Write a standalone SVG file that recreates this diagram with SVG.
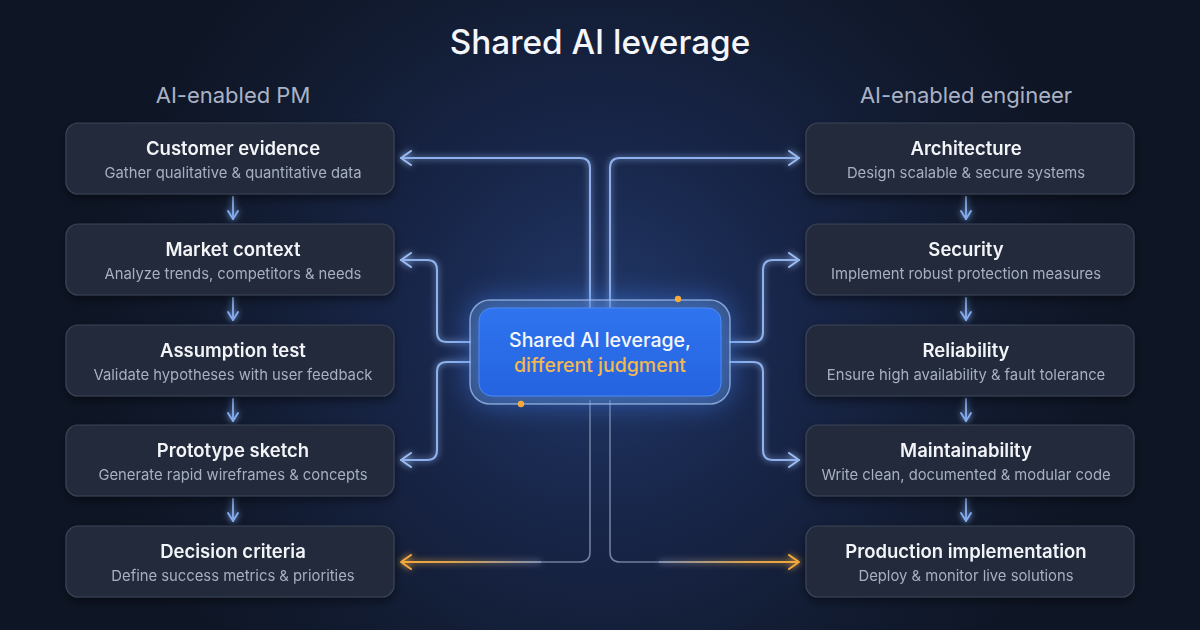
<svg xmlns="http://www.w3.org/2000/svg" width="1200" height="630" viewBox="0 0 1200 630">
<defs>
  <radialGradient id="bg" cx="600" cy="330" r="520" gradientUnits="userSpaceOnUse">
    <stop offset="0" stop-color="#22396a"/>
    <stop offset="0.35" stop-color="#18264a"/>
    <stop offset="0.75" stop-color="#111a2e"/>
    <stop offset="1" stop-color="#0e1524"/>
  </radialGradient>
  <linearGradient id="gl" x1="541" y1="0" x2="400" y2="0" gradientUnits="userSpaceOnUse">
    <stop offset="0" stop-color="#7f8fb0"/>
    <stop offset="0.6" stop-color="#d9a150"/>
    <stop offset="1" stop-color="#f5a93a"/>
  </linearGradient>
  <linearGradient id="gr" x1="659" y1="0" x2="800" y2="0" gradientUnits="userSpaceOnUse">
    <stop offset="0" stop-color="#7f8fb0"/>
    <stop offset="0.6" stop-color="#d9a150"/>
    <stop offset="1" stop-color="#f5a93a"/>
  </linearGradient>
  <linearGradient id="cfill" x1="0" y1="0" x2="0" y2="1">
    <stop offset="0" stop-color="#2f74ee"/>
    <stop offset="1" stop-color="#2563e0"/>
  </linearGradient>
  <filter id="glow" filterUnits="userSpaceOnUse" x="0" y="0" width="1200" height="630">
    <feGaussianBlur in="SourceGraphic" stdDeviation="3" result="b"/>
    <feMerge><feMergeNode in="b"/><feMergeNode in="SourceGraphic"/></feMerge>
  </filter>
  <filter id="shadow" x="-10%" y="-20%" width="120%" height="150%">
    <feDropShadow dx="0" dy="4" stdDeviation="5" flood-color="#000" flood-opacity="0.45"/>
  </filter>
  <filter id="cglow" x="-30%" y="-60%" width="160%" height="220%">
    <feGaussianBlur stdDeviation="14"/>
  </filter>
  <marker id="ah" viewBox="0 0 12 16" refX="11" refY="8" markerWidth="12" markerHeight="16" markerUnits="userSpaceOnUse" orient="auto">
    <path d="M1,1 L11,8 L1,15" fill="none" stroke="#9cbcf2" stroke-width="2" stroke-linecap="round" stroke-linejoin="round"/>
  </marker>
  <marker id="ao" viewBox="0 0 12 16" refX="11" refY="8" markerWidth="12" markerHeight="16" markerUnits="userSpaceOnUse" orient="auto">
    <path d="M1,1 L11,8 L1,15" fill="none" stroke="#f5ab3c" stroke-width="2" stroke-linecap="round" stroke-linejoin="round"/>
  </marker>
  <marker id="ad" viewBox="0 0 16 12" refX="15" refY="6" markerWidth="16" markerHeight="12" markerUnits="userSpaceOnUse" orient="auto">
    <path d="M7,1 L15,6 L7,11" fill="none" stroke="#86aef0" stroke-width="1.8" stroke-linecap="round" stroke-linejoin="round"/>
  </marker>
</defs>
<style>
  .box{fill:#222a3b;stroke:#3b4558;stroke-width:1.2}
  .t{font-family:Inter,"Liberation Sans",sans-serif;font-size:18.5px;font-weight:600;fill:#f2f4f8;text-anchor:middle}
  .s{font-family:Inter,"Liberation Sans",sans-serif;font-size:14.8px;font-weight:400;fill:#a7b0c2;text-anchor:middle}
  .h{font-family:Inter,"Liberation Sans",sans-serif;font-size:22px;font-weight:400;fill:#aab3c6;text-anchor:middle}
  .blue{fill:none;stroke:#8fb2ee;stroke-width:2;stroke-linecap:round}
  .down{fill:none;stroke:#86aef0;stroke-width:1.8;stroke-linecap:round}
</style>
<rect width="1200" height="630" fill="url(#bg)"/>

<text x="600" y="54" font-family="Inter,'Liberation Sans',sans-serif" font-size="33.3" font-weight="500" fill="#f4f6fa" text-anchor="middle">Shared AI leverage</text>
<text class="h" x="233" y="103">AI-enabled PM</text>
<text class="h" x="966" y="103">AI-enabled engineer</text>

<g id="connectors">
  <!-- left -->
  <path class="blue" filter="url(#glow)" d="M590,312 V168 Q590,158 580,158 H401" marker-end="url(#ah)"/>
  <path class="blue" filter="url(#glow)" d="M470,342 H447 Q437,342 437,332 V270 Q437,260 427,260 H401" marker-end="url(#ah)"/>
  <path class="blue" filter="url(#glow)" d="M470,362 H447 Q437,362 437,372 V450 Q437,460 427,460 H401" marker-end="url(#ah)"/>
  <path fill="none" stroke="#6f7f9f" stroke-width="1.6" d="M590,400 V552 Q590,562 580,562 H540"/>
  <path fill="none" stroke="url(#gl)" stroke-width="2" filter="url(#glow)" d="M541,562 H401" marker-end="url(#ao)"/>
  <!-- right -->
  <path class="blue" filter="url(#glow)" d="M610,312 V168 Q610,158 620,158 H799" marker-end="url(#ah)"/>
  <path class="blue" filter="url(#glow)" d="M730,342 H753 Q763,342 763,332 V270 Q763,260 773,260 H799" marker-end="url(#ah)"/>
  <path class="blue" filter="url(#glow)" d="M730,362 H753 Q763,362 763,372 V450 Q763,460 773,460 H799" marker-end="url(#ah)"/>
  <path fill="none" stroke="#6f7f9f" stroke-width="1.6" d="M610,400 V552 Q610,562 620,562 H660"/>
  <path fill="none" stroke="url(#gr)" stroke-width="2" filter="url(#glow)" d="M659,562 H799" marker-end="url(#ao)"/>
  <!-- down arrows -->
  <path class="down" filter="url(#glow)" d="M233,197 V219" marker-end="url(#ad)"/>
  <path class="down" filter="url(#glow)" d="M233,298 V320" marker-end="url(#ad)"/>
  <path class="down" filter="url(#glow)" d="M233,399 V421" marker-end="url(#ad)"/>
  <path class="down" filter="url(#glow)" d="M233,499 V521" marker-end="url(#ad)"/>
  <path class="down" filter="url(#glow)" d="M966,197 V219" marker-end="url(#ad)"/>
  <path class="down" filter="url(#glow)" d="M966,298 V320" marker-end="url(#ad)"/>
  <path class="down" filter="url(#glow)" d="M966,399 V421" marker-end="url(#ad)"/>
  <path class="down" filter="url(#glow)" d="M966,499 V521" marker-end="url(#ad)"/>
</g>

<g id="pm-customer-evidence" filter="url(#shadow)">
  <rect class="box" x="66" y="123" width="328" height="71" rx="12"/>
  <text class="t" x="233" y="155">Customer evidence</text>
  <text class="s" x="233" y="178">Gather qualitative &amp; quantitative data</text>
</g>
<g id="pm-market-context" filter="url(#shadow)">
  <rect class="box" x="66" y="224" width="328" height="71" rx="12"/>
  <text class="t" x="233" y="256">Market context</text>
  <text class="s" x="233" y="279">Analyze trends, competitors &amp; needs</text>
</g>
<g id="pm-assumption-test" filter="url(#shadow)">
  <rect class="box" x="66" y="325" width="328" height="71" rx="12"/>
  <text class="t" x="233" y="357">Assumption test</text>
  <text class="s" x="233" y="380">Validate hypotheses with user feedback</text>
</g>
<g id="pm-prototype-sketch" filter="url(#shadow)">
  <rect class="box" x="66" y="425" width="328" height="71" rx="12"/>
  <text class="t" x="233" y="457">Prototype sketch</text>
  <text class="s" x="233" y="480">Generate rapid wireframes &amp; concepts</text>
</g>
<g id="pm-decision-criteria" filter="url(#shadow)">
  <rect class="box" x="66" y="526" width="328" height="71" rx="12"/>
  <text class="t" x="233" y="558">Decision criteria</text>
  <text class="s" x="233" y="581">Define success metrics &amp; priorities</text>
</g>

<g id="eng-architecture" filter="url(#shadow)">
  <rect class="box" x="806" y="123" width="328" height="71" rx="12"/>
  <text class="t" x="966" y="155">Architecture</text>
  <text class="s" x="966" y="178">Design scalable &amp; secure systems</text>
</g>
<g id="eng-security" filter="url(#shadow)">
  <rect class="box" x="806" y="224" width="328" height="71" rx="12"/>
  <text class="t" x="966" y="256">Security</text>
  <text class="s" x="966" y="279">Implement robust protection measures</text>
</g>
<g id="eng-reliability" filter="url(#shadow)">
  <rect class="box" x="806" y="325" width="328" height="71" rx="12"/>
  <text class="t" x="966" y="357">Reliability</text>
  <text class="s" x="966" y="380">Ensure high availability &amp; fault tolerance</text>
</g>
<g id="eng-maintainability" filter="url(#shadow)">
  <rect class="box" x="806" y="425" width="328" height="71" rx="12"/>
  <text class="t" x="966" y="457">Maintainability</text>
  <text class="s" x="966" y="480">Write clean, documented &amp; modular code</text>
</g>
<g id="eng-production" filter="url(#shadow)">
  <rect class="box" x="806" y="526" width="328" height="71" rx="12"/>
  <text class="t" x="966" y="558">Production implementation</text>
  <text class="s" x="966" y="581">Deploy &amp; monitor live solutions</text>
</g>

<g id="center">
  <rect x="470" y="300" width="260" height="104" rx="20" fill="#3f7ef0" opacity="0.55" filter="url(#cglow)"/>
  <rect x="470" y="300" width="260" height="104" rx="20" fill="#5c86c4" fill-opacity="0.35" stroke="#a9c6f2" stroke-opacity="0.7" stroke-width="1.5"/>
  <rect x="479" y="308" width="242" height="88" rx="13" fill="url(#cfill)" stroke="#4d8af5" stroke-width="1"/>
  <text x="600" y="347" font-family="Inter,'Liberation Sans',sans-serif" font-size="19.5" font-weight="500" fill="#f4f7fc" text-anchor="middle">Shared AI leverage,</text>
  <text x="600" y="372" font-family="Inter,'Liberation Sans',sans-serif" font-size="19.5" font-weight="500" fill="#f4b850" text-anchor="middle">different judgment</text>
  <circle cx="678" cy="299" r="3.2" fill="#f5ab3c"/>
  <circle cx="521" cy="404" r="3.2" fill="#f5ab3c"/>
</g>
</svg>
